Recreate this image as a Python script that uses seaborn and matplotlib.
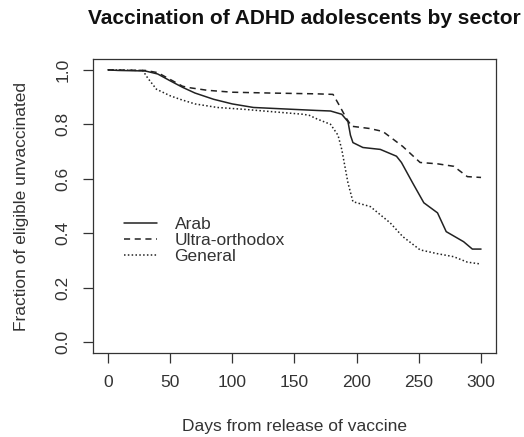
import numpy as np
import pandas as pd
import seaborn as sns
import matplotlib.pyplot as plt

sns.set_style('white')
plt.rcParams['font.family'] = ['Liberation Sans', 'DejaVu Sans']

# Kaplan-Meier style curves
arab_days = [0, 8, 30, 40, 50, 60, 70, 85, 100, 117, 140, 168, 179, 188, 193, 195, 197, 205,
             219, 232, 236, 245, 254, 265, 272, 286, 293, 300]
arab_frac = [1.0, 0.998, 0.996, 0.985, 0.96, 0.936, 0.915, 0.892, 0.875, 0.862, 0.857, 0.851,
             0.849, 0.837, 0.81, 0.76, 0.733, 0.715, 0.708, 0.683, 0.66, 0.585, 0.512, 0.475,
             0.406, 0.369, 0.342, 0.342]

ultra_days = [0, 30, 40, 50, 60, 65, 80, 100, 130, 168, 181, 186, 192, 196, 210, 221, 237,
              251, 265, 278, 289, 300]
ultra_frac = [1.0, 0.998, 0.99, 0.965, 0.94, 0.935, 0.925, 0.918, 0.915, 0.912, 0.91, 0.87,
              0.82, 0.793, 0.785, 0.774, 0.719, 0.66, 0.655, 0.646, 0.608, 0.605]

general_days = [0, 28, 32, 39, 50, 58, 70, 88, 110, 128, 157, 162, 168, 179, 185, 188, 193,
                197, 211, 227, 237, 251, 265, 278, 289, 300]
general_frac = [1.0, 0.998, 0.97, 0.929, 0.905, 0.892, 0.875, 0.862, 0.855, 0.848, 0.837,
                0.833, 0.82, 0.8, 0.76, 0.708, 0.585, 0.516, 0.498, 0.438, 0.388, 0.339,
                0.325, 0.314, 0.294, 0.287]

sectors = ['Arab', 'Ultra-orthodox', 'General']
styles = {'Arab': '-', 'Ultra-orthodox': (0, (4, 3)), 'General': (0, (1, 1.5))}

df = pd.concat([
    pd.DataFrame({'day': arab_days, 'frac': arab_frac, 'sector': 'Arab'}),
    pd.DataFrame({'day': ultra_days, 'frac': ultra_frac, 'sector': 'Ultra-orthodox'}),
    pd.DataFrame({'day': general_days, 'frac': general_frac, 'sector': 'General'}),
])

fig = plt.figure(figsize=(5.24, 4.37), dpi=100)
ax = fig.add_axes([0.1775, 0.192, 0.769, 0.673])

for s in sectors:
    d = df[df.sector == s]
    sns.lineplot(data=d, x='day', y='frac', ax=ax, color='#222222', lw=1.1,
                 linestyle=styles[s], estimator=None, sort=False, label=s)

ax.set_xlim(-12, 312)
ax.set_ylim(-0.04, 1.04)
ax.set_xticks(np.arange(0, 301, 50))
ax.set_yticks(np.arange(0, 1.01, 0.2))
ax.set_yticklabels(['0.0', '0.2', '0.4', '0.6', '0.8', '1.0'], rotation=90, va='center')
ax.tick_params(direction='out', length=7, width=0.9, color='#333333', labelsize=12.5,
               labelcolor='#333333', pad=9, bottom=True, left=True)
for sp in ax.spines.values():
    sp.set_color('#333333')
    sp.set_linewidth(0.9)

ax.set_xlabel('Days from release of vaccine', fontsize=12.5, color='#333333', labelpad=21)
ax.set_ylabel('Fraction of eligible unvaccinated', fontsize=12.5, color='#333333', labelpad=19)
fig.text(0.58, 0.957, 'Vaccination of ADHD adolescents by sector', ha='center', va='center',
         fontsize=15, fontweight='bold', color='#111111')

leg = ax.legend(loc='upper left', bbox_to_anchor=(0.06, 0.487), frameon=False, fontsize=12.5,
                handlelength=1.9, labelspacing=0.05, handletextpad=1.0, borderaxespad=0)
for t in leg.get_texts():
    t.set_color('#333333')

fig.savefig('out.png', dpi=100)
